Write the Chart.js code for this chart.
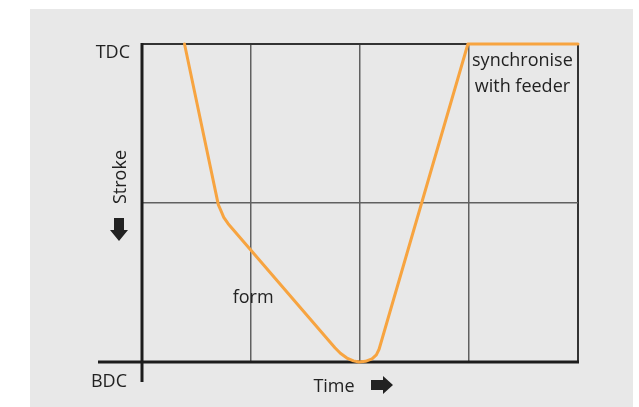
<!DOCTYPE html>
<html>
<head>
<meta charset="utf-8">
<script src="https://cdn.jsdelivr.net/npm/chart.js@4.4.1/dist/chart.umd.min.js"></script>
<style>
  body { margin: 0; background: #ffffff; }
  canvas { display: block; }
</style>
</head>
<body>
<canvas id="strokeChart" width="639" height="407"></canvas>
<script>
// Stroke position over time (x: time divisions, y: 0 = BDC, 2 = TDC)
const timeValues   = [0.39, 0.70, 0.725, 0.75, 0.79, 1.77, 1.82, 1.88, 1.94, 1.99, 2.05, 2.11, 2.15, 2.175, 2.99, 4.0];
const strokeValues = [2.0,  0.99, 0.95,  0.91, 0.87, 0.09, 0.055, 0.025, 0.007, 0.0, 0.004, 0.02, 0.045, 0.08, 2.0, 2.0];

const yTickLabels = ['BDC', 'TDC'];
const axisTitleX = 'Time';
const axisTitleY = 'Stroke';
const phaseLabels = [
    { text: ['form'], x: 1.02, y: 0.37 },
    { text: ['synchronise', 'with feeder'], x: 3.49, y: 1.86 }
];

const FONT = '18px "Open Sans", sans-serif';
const TEXT_COLOR = '#222222';

const points = timeValues.map((t, i) => ({ x: t, y: strokeValues[i] }));

const decorPlugin = {
    id: 'decor',
    beforeDraw(chart) {
        const ctx = chart.ctx;
        ctx.save();
        ctx.fillStyle = '#e8e8e8';
        ctx.fillRect(30, 9, 603, 398);
        ctx.restore();
    },
    beforeDatasetsDraw(chart) {
        const ctx = chart.ctx;
        const xs = chart.scales.x;
        const ys = chart.scales.y;
        const x0 = xs.getPixelForValue(0);
        const xEnd = xs.getPixelForValue(4);
        const y0 = ys.getPixelForValue(0);
        const yTop = ys.getPixelForValue(2);
        ctx.save();
        ctx.strokeStyle = '#1c1c1c';
        ctx.lineWidth = 3;
        ctx.beginPath();
        // y axis, runs a bit below the x axis
        ctx.moveTo(x0, yTop - 1);
        ctx.lineTo(x0, y0 + 20);
        // x axis, starts left of the y axis
        ctx.moveTo(x0 - 44, y0);
        ctx.lineTo(xEnd + 1, y0);
        ctx.stroke();
        ctx.restore();
    },
    afterDraw(chart) {
        const ctx = chart.ctx;
        const xs = chart.scales.x;
        const ys = chart.scales.y;
        const x0 = xs.getPixelForValue(0);
        const y0 = ys.getPixelForValue(0);
        const yTop = ys.getPixelForValue(2);
        ctx.save();
        ctx.font = FONT;
        ctx.fillStyle = TEXT_COLOR;

        // TDC / BDC labels
        ctx.textAlign = 'right';
        ctx.textBaseline = 'alphabetic';
        ctx.fillText(yTickLabels[1], x0 - 12, yTop + 14);
        ctx.fillText(yTickLabels[0], x0 - 15, y0 + 25);

        // Time label + right arrow
        ctx.textAlign = 'center';
        ctx.fillText(axisTitleX, 334, y0 + 30);
        const ax = 371, ay = y0 + 23;
        ctx.beginPath();
        ctx.moveTo(ax, ay - 5);
        ctx.lineTo(ax + 12, ay - 5);
        ctx.lineTo(ax + 12, ay - 9);
        ctx.lineTo(ax + 22, ay);
        ctx.lineTo(ax + 12, ay + 9);
        ctx.lineTo(ax + 12, ay + 5);
        ctx.lineTo(ax, ay + 5);
        ctx.closePath();
        ctx.fill();

        // Stroke label (rotated) + down arrow
        ctx.save();
        ctx.translate(126, 177);
        ctx.rotate(-Math.PI / 2);
        ctx.textAlign = 'center';
        ctx.fillText(axisTitleY, 0, 0);
        ctx.restore();
        const dx = 119, dy = 218;
        ctx.beginPath();
        ctx.moveTo(dx - 5, dy);
        ctx.lineTo(dx + 5, dy);
        ctx.lineTo(dx + 5, dy + 12);
        ctx.lineTo(dx + 9, dy + 12);
        ctx.lineTo(dx, dy + 23);
        ctx.lineTo(dx - 9, dy + 12);
        ctx.lineTo(dx - 5, dy + 12);
        ctx.closePath();
        ctx.fill();

        // phase labels
        ctx.textAlign = 'center';
        phaseLabels.forEach(lbl => {
            const px = xs.getPixelForValue(lbl.x);
            const py = ys.getPixelForValue(lbl.y);
            lbl.text.forEach((line, i) => {
                ctx.fillText(line, px, py + i * 26);
            });
        });
        ctx.restore();
    }
};

const gridColor = (top) => (c) => {
    const v = c.tick.value;
    if (v === 0) return 'rgba(0,0,0,0)';
    return v === top ? '#333333' : '#606060';
};
const gridWidth = (top) => (c) => (c.tick.value === top ? 2 : 1.5);

new Chart(document.getElementById('strokeChart').getContext('2d'), {
    type: 'scatter',
    data: {
        datasets: [{
            data: points,
            showLine: true,
            borderColor: '#f7a440',
            borderWidth: 3,
            borderJoinStyle: 'round',
            borderCapStyle: 'round',
            pointRadius: 0,
            tension: 0,
            clip: false
        }]
    },
    options: {
        responsive: false,
        animation: false,
        layout: { padding: { left: 142, right: 61, top: 44, bottom: 45 } },
        plugins: {
            legend: { display: false },
            tooltip: { enabled: false }
        },
        scales: {
            x: {
                type: 'linear',
                min: 0,
                max: 4,
                ticks: { display: false, stepSize: 1 },
                border: { display: false },
                grid: { drawTicks: false, color: gridColor(4), lineWidth: gridWidth(4) }
            },
            y: {
                type: 'linear',
                min: 0,
                max: 2,
                ticks: { display: false, stepSize: 1 },
                border: { display: false },
                grid: { drawTicks: false, color: gridColor(2), lineWidth: gridWidth(2) }
            }
        }
    },
    plugins: [decorPlugin]
});
</script>
</body>
</html>
